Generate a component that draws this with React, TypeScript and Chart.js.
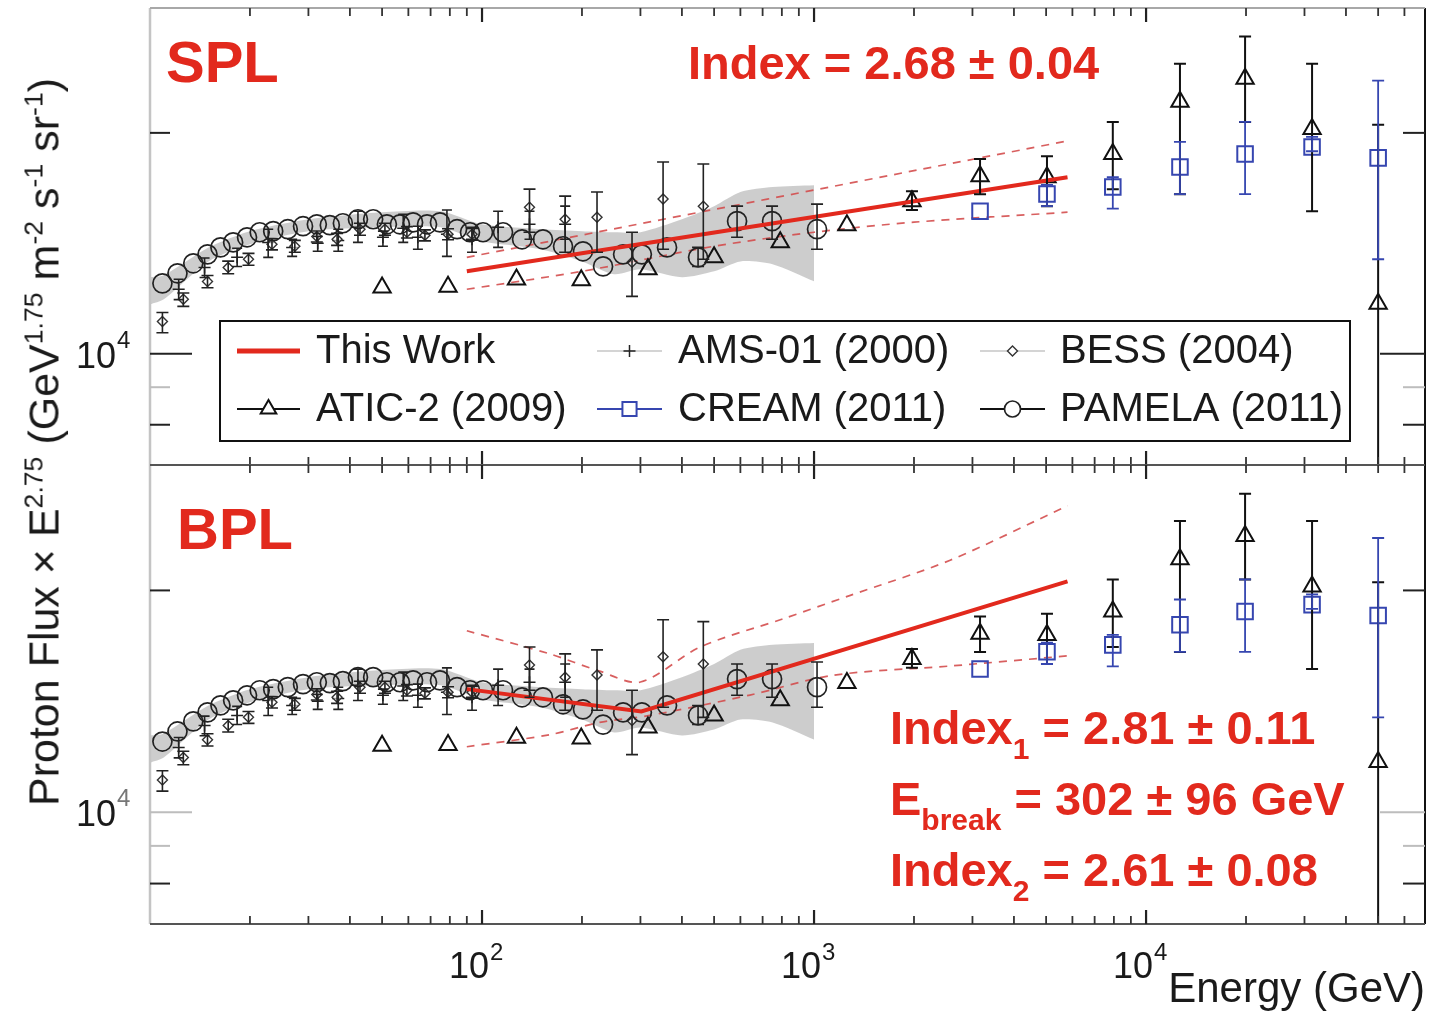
import React, { useEffect, useRef } from 'react';
import { Chart, registerables } from 'chart.js';

Chart.register(...registerables);

// ---------- axis ranges & ticks ----------
const X_MIN = 10;
const X_MAX = 69200;
const Y_MIN = 7050;
const Y_MAX = 29600;

const xLabelTicks = [100, 1000, 10000];
const xLabelExponents = ['2', '3', '4'];
const yTickValues = [8000, 9000, 10000, 20000];
const yLabelTicks = [10000];
const yLabelExponents = ['4'];

// ---------- PAMELA (2011) ----------
const pamelaE = [10.9, 12.1, 13.5, 14.9, 16.3, 17.8, 19.6, 21.4, 23.5, 26.0, 28.9, 31.8, 34.8, 38.1, 42.3, 47.0, 51.7, 56.6, 62.0, 68.3, 74.7, 84.1, 92.0, 100.7, 115.7, 132, 152.6, 175.4, 201.4, 231.5, 266, 303, 360.8, 447.4, 586.4, 747.4, 1021];
const pamelaV = [12470, 12870, 13280, 13660, 13960, 14180, 14410, 14640, 14690, 14780, 14920, 15010, 14970, 15060, 15250, 15250, 15010, 15010, 15100, 15010, 15100, 14780, 14640, 14640, 14640, 14320, 14320, 14010, 13790, 13150, 13660, 13660, 13960, 13530, 15160, 15160, 14780];
const pamelaLo = [null, null, null, null, null, null, null, null, null, null, null, null, null, null, null, null, null, null, null, null, null, null, null, null, null, null, null, null, null, null, null, null, null, 13150, 14410, 14320, 13880];
const pamelaHi = [null, null, null, null, null, null, null, null, null, null, null, null, null, null, null, null, null, null, null, null, null, null, null, null, null, null, null, null, null, null, null, null, null, 13960, 15890, 15890, 15990];

// ---------- PAMELA systematic band ----------
const bandE = [10, 11, 15, 20, 30, 50, 75, 100, 150, 200, 250, 300, 400, 500, 600, 750, 1000];
const bandHi = [12710, 12790, 13960, 14690, 15250, 15590, 15640, 15010, 14780, 14690, 14640, 14640, 15250, 15890, 16610, 16870, 16970];
const bandLo = [11670, 11860, 13360, 14100, 14690, 14870, 14870, 14230, 13880, 13360, 12830, 13030, 12710, 12950, 13360, 13240, 12550];

// ---------- BESS (2004) ----------
const bessE = [10.9, 12.6, 14.9, 17.2, 19.8, 23.3, 27.3, 31.8, 36.6, 42.9, 51.0, 59.4, 67.3, 79, 93.3, 139, 178, 222, 283, 351, 464];
const bessV = [11060, 11860, 12540, 13110, 13450, 14100, 14010, 14450, 14320, 14780, 14780, 14640, 14500, 14550, 14550, 15840, 15250, 15350, 13320, 16250, 15890];
const bessLo = [10680, 11600, 12300, 12850, 13200, 13850, 13750, 14200, 14050, 14500, 14500, 14380, 14250, 14300, 14280, 14640, 13750, 13750, 11970, 13880, 13450];
const bessHi = [11380, 12100, 12780, 13370, 13700, 14350, 14270, 14700, 14590, 15060, 15060, 14900, 14750, 14800, 14820, 16760, 16400, 16610, 14640, 18250, 18140];

// ---------- AMS-01 (2000) ----------
const amsE = [12.2, 14.6, 18.3, 22.7, 26.8, 32.0, 36.9, 42.3, 50.3, 57.9, 64.1, 78.4, 93.3, 111.8, 139, 178];
const amsV = [12240, 13110, 13530, 14180, 13960, 14140, 14270, 14870, 14410, 14830, 14410, 14550, 14320, 14870, 15010, 15010];
const amsLo = [11850, 12700, 13150, 13530, 13570, 13790, 13790, 14180, 14010, 14180, 13880, 13570, 13750, 13960, 14320, 14320];
const amsHi = [12630, 13500, 13920, 14780, 14320, 14450, 14780, 15640, 14690, 15490, 14920, 15700, 14870, 15640, 15640, 15890];

// ---------- ATIC-2 (2009) ----------
const aticE = [50, 79, 127, 199, 316, 500, 791, 1256, 1972, 3162, 5030, 7940, 12650, 19870, 31620, 50000];
const aticV = [12310, 12340, 12620, 12590, 13030, 13530, 14190, 14970, 16140, 17460, 17400, 18720, 22050, 23700, 20250, 11700];
const aticLo = [null, null, null, null, null, null, null, null, 15700, 16500, 15890, 16760, 16500, 20700, 15640, 3000];
const aticHi = [null, null, null, null, null, null, null, null, 16650, 18430, 18590, 20700, 24850, 27060, 24850, 20510];

// ---------- CREAM (2011) ----------
const creamE = [3162, 5030, 7940, 12650, 19870, 31620, 50000];
const creamV = [15640, 16510, 16870, 17970, 18720, 19130, 18490];
const creamLo = [null, 15890, 15770, 16500, 16500, 18880, 13450];
const creamHi = [null, 16990, 17400, 19440, 20700, 19750, 23560];

// ---------- This Work: single power law ----------
const splE = [90, 5800];
const splV = [12950, 17400];
const splUpperE = [90, 5800];
const splUpperV = [13530, 19500];
const splLowerE = [90, 200, 500, 1000, 2000, 5800];
const splLowerV = [12240, 12950, 14010, 14640, 15110, 15590];

// ---------- This Work: broken power law ----------
const bplE = [90, 302, 5800];
const bplV = [14690, 13700, 20570];
const bplUpperE = [90, 160, 226, 300, 454, 809, 1280, 2570, 5800];
const bplUpperV = [17630, 16400, 15540, 15020, 16760, 18310, 19680, 21980, 26060];
const bplLowerE = [90, 160, 226, 320, 641, 1140, 2570, 5800];
const bplLowerV = [12270, 12740, 13240, 13530, 14420, 15340, 15790, 16300];

const LBL_THIS = 'This Work';
const LBL_AMS = 'AMS-01 (2000)';
const LBL_BESS = 'BESS (2004)';
const LBL_ATIC = 'ATIC-2 (2009)';
const LBL_CREAM = 'CREAM (2011)';
const LBL_PAMELA = 'PAMELA (2011)';

const legendLayout = [
  { label: LBL_THIS, col: 0, row: 0 },
  { label: LBL_AMS, col: 1, row: 0 },
  { label: LBL_BESS, col: 2, row: 0 },
  { label: LBL_ATIC, col: 0, row: 1 },
  { label: LBL_CREAM, col: 1, row: 1 },
  { label: LBL_PAMELA, col: 2, row: 1 },
];

const RED = '#e2291d';
const DASH_RED = 'rgba(212,78,78,0.9)';
const BLUE = '#3646b0';
const FONT = '"Liberation Sans", Arial, Helvetica, sans-serif';

function pts(xs: number[], ys: number[]) {
  return xs.map((x, i) => ({ x, y: ys[i] }));
}

function drawMarker(ctx: CanvasRenderingContext2D, style: string, x: number, y: number, r: number) {
  ctx.beginPath();
  if (style === 'circle') {
    ctx.arc(x, y, r, 0, Math.PI * 2);
  } else if (style === 'triangle') {
    ctx.moveTo(x, y - r);
    ctx.lineTo(x + r * 0.866, y + r * 0.5);
    ctx.lineTo(x - r * 0.866, y + r * 0.5);
    ctx.closePath();
  } else if (style === 'rect') {
    const s = r * 0.707;
    ctx.rect(x - s, y - s, 2 * s, 2 * s);
  } else if (style === 'rectRot') {
    ctx.moveTo(x, y - r);
    ctx.lineTo(x + r, y);
    ctx.lineTo(x, y + r);
    ctx.lineTo(x - r, y);
    ctx.closePath();
  } else if (style === 'cross') {
    ctx.moveTo(x, y - r);
    ctx.lineTo(x, y + r);
    ctx.moveTo(x - r, y);
    ctx.lineTo(x + r, y);
  }
  if (style !== 'cross') {
    ctx.fillStyle = '#fff';
    ctx.fill();
  }
  ctx.stroke();
}

const errorBarPlugin = {
  id: 'errorBars',
  afterDatasetsDraw(chart: any) {
    const { ctx, chartArea: a, scales } = chart;
    const xs = scales.x;
    const ys = scales.y;
    ctx.save();
    ctx.beginPath();
    ctx.rect(a.left, a.top, a.right - a.left, a.bottom - a.top);
    ctx.clip();
    chart.data.datasets.forEach((ds: any) => {
      if (!ds.errLo) return;
      ctx.strokeStyle = ds.errColor || ds.pointBorderColor;
      ctx.lineWidth = ds.errWidth || 1.6;
      const cap = ds.capHalf || 5;
      ds.data.forEach((p: any, i: number) => {
        const lo = ds.errLo[i];
        const hi = ds.errHi[i];
        if (lo == null || hi == null) return;
        const px = xs.getPixelForValue(p.x);
        const yl = ys.getPixelForValue(lo);
        const yh = ys.getPixelForValue(hi);
        ctx.beginPath();
        ctx.moveTo(px, yl);
        ctx.lineTo(px, yh);
        ctx.moveTo(px - cap, yh);
        ctx.lineTo(px + cap, yh);
        ctx.moveTo(px - cap, yl);
        ctx.lineTo(px + cap, yl);
        ctx.stroke();
      });
    });
    ctx.restore();
  },
};

function seg(ctx: CanvasRenderingContext2D, x0: number, y0: number, x1: number, y1: number, color: string, w: number) {
  ctx.strokeStyle = color;
  ctx.lineWidth = w;
  ctx.beginPath();
  ctx.moveTo(x0, y0);
  ctx.lineTo(x1, y1);
  ctx.stroke();
}

const axesPlugin = {
  id: 'axesDeco',
  afterDraw(chart: any, _args: any, opts: any) {
    const { ctx, chartArea: a, scales } = chart;
    const xs = scales.x;
    const ys = scales.y;
    const bottomPanel = !!opts.bottomPanel;
    ctx.save();
    // frame
    seg(ctx, a.left, a.top, a.left, a.bottom, '#c4c4c4', 2.5);
    seg(ctx, a.right, a.top, a.right, a.bottom, '#111', 2);
    seg(ctx, a.left, a.top, a.right, a.top, bottomPanel ? '#555' : '#a8a8a8', 2);
    seg(ctx, a.left, a.bottom, a.right, a.bottom, '#555', 2);
    // x ticks
    for (let d = 1; d <= 4; d++) {
      for (let m = 1; m <= 9; m++) {
        const v = m * Math.pow(10, d);
        if (v <= X_MIN || v >= X_MAX) continue;
        const px = xs.getPixelForValue(v);
        const major = m === 1;
        const len = major ? 14 : 8;
        const col = major ? '#222' : '#333';
        const w = major ? 2.2 : 1.8;
        seg(ctx, px, a.top, px, a.top + len, col, w);
        seg(ctx, px, a.bottom, px, a.bottom - len, col, w);
      }
    }
    // y ticks
    yTickValues.forEach((v) => {
      const py = ys.getPixelForValue(v);
      const major = v === 10000;
      const gray = v === 9000 || (major && bottomPanel);
      const col = gray ? '#bdbdbd' : '#222';
      seg(ctx, a.left, py, a.left + (major ? 42 : 20), py, col, 2);
      seg(ctx, a.right, py, a.right - (major ? 45 : 22), py, col, 2);
    });
    // y labels
    ctx.fillStyle = '#1a1a1a';
    ctx.textBaseline = 'alphabetic';
    yLabelTicks.forEach((v, i) => {
      const py = ys.getPixelForValue(v);
      ctx.font = `36px ${FONT}`;
      ctx.textAlign = 'right';
      ctx.fillText('10', 116, py + 14);
      ctx.font = `24px ${FONT}`;
      ctx.textAlign = 'left';
      ctx.fillStyle = bottomPanel ? '#777' : '#1a1a1a';
      ctx.fillText(yLabelExponents[i], 117, py - 6);
      ctx.fillStyle = '#1a1a1a';
    });
    // x labels
    if (bottomPanel) {
      xLabelTicks.forEach((v, i) => {
        const px = xs.getPixelForValue(v);
        ctx.font = `36px ${FONT}`;
        ctx.textAlign = 'right';
        ctx.fillText('10', px + 7, a.bottom + 54);
        ctx.font = `24px ${FONT}`;
        ctx.textAlign = 'left';
        ctx.fillText(xLabelExponents[i], px + 8, a.bottom + 36);
      });
    }
    ctx.restore();
  },
};

const legendPlugin = {
  id: 'boxLegend',
  afterDraw(chart: any, _args: any, opts: any) {
    if (!opts.show) return;
    const ctx = chart.ctx as CanvasRenderingContext2D;
    const sx0 = [237, 597, 980];
    const sx1 = [300, 662, 1045];
    const tx = [316, 678, 1060];
    const ry = [351, 409];
    ctx.save();
    ctx.fillStyle = '#fff';
    ctx.fillRect(220, 321, 1130, 120);
    ctx.strokeStyle = '#111';
    ctx.lineWidth = 2;
    ctx.strokeRect(220, 321, 1130, 120);
    legendLayout.forEach((it) => {
      const ds = chart.data.datasets.find((d: any) => d.label === it.label);
      if (!ds) return;
      const y = ry[it.row];
      const x0 = sx0[it.col];
      const x1 = sx1[it.col];
      seg(ctx, x0, y, x1, y, ds.legendLineColor || ds.borderColor, ds.legendLineWidth || 1.5);
      if (ds.showLine === false) {
        ctx.strokeStyle = ds.pointBorderColor;
        ctx.lineWidth = ds.pointBorderWidth;
        drawMarker(ctx, ds.pointStyle, (x0 + x1) / 2, y, ds.legendRadius || ds.pointRadius);
      }
      ctx.fillStyle = '#1a1a1a';
      ctx.font = `40px ${FONT}`;
      ctx.textAlign = 'left';
      ctx.textBaseline = 'middle';
      ctx.fillText(ds.label, tx[it.col], y + 1);
    });
    ctx.restore();
  },
};

function makeConfig(panel: 'top' | 'bottom'): any {
  const isTop = panel === 'top';
  const fitE = isTop ? splE : bplE;
  const fitV = isTop ? splV : bplV;
  const upE = isTop ? splUpperE : bplUpperE;
  const upV = isTop ? splUpperV : bplUpperV;
  const loE = isTop ? splLowerE : bplLowerE;
  const loV = isTop ? splLowerV : bplLowerV;
  const datasets: any[] = [
    {
      label: LBL_THIS,
      data: pts(fitE, fitV),
      borderColor: RED,
      borderWidth: 4,
      pointRadius: 0,
      tension: 0,
      fill: false,
      order: 0,
      legendLineWidth: 5,
    },
    {
      label: LBL_PAMELA,
      data: pts(pamelaE, pamelaV),
      showLine: false,
      pointStyle: 'circle',
      pointRadius: 9.5,
      pointBorderColor: '#222',
      pointBackgroundColor: 'rgba(0,0,0,0)',
      pointBorderWidth: 1.7,
      borderColor: '#111',
      errLo: pamelaLo,
      errHi: pamelaHi,
      capHalf: 6,
      order: 2,
      legendLineColor: '#111',
      legendLineWidth: 1.8,
      legendRadius: 8,
    },
    {
      label: LBL_BESS,
      data: pts(bessE, bessV),
      showLine: false,
      pointStyle: 'rectRot',
      pointRadius: 5,
      pointBorderColor: '#333',
      pointBackgroundColor: 'rgba(255,255,255,0.6)',
      pointBorderWidth: 1.4,
      borderColor: '#999',
      errLo: bessLo,
      errHi: bessHi,
      errColor: '#222',
      capHalf: 6,
      order: 2,
      legendLineColor: '#aaa',
      legendLineWidth: 1.2,
    },
    {
      label: LBL_AMS,
      data: pts(amsE, amsV),
      showLine: false,
      pointStyle: 'cross',
      pointRadius: 6,
      pointBorderColor: '#222',
      pointBorderWidth: 1.5,
      borderColor: '#999',
      errLo: amsLo,
      errHi: amsHi,
      errColor: '#222',
      capHalf: 5,
      order: 2,
      legendLineColor: '#aaa',
      legendLineWidth: 1.2,
    },
    {
      label: LBL_ATIC,
      data: pts(aticE, aticV),
      showLine: false,
      pointStyle: 'triangle',
      pointRadius: 10,
      pointBorderColor: '#111',
      pointBackgroundColor: 'rgba(255,255,255,0)',
      pointBorderWidth: 2,
      borderColor: '#111',
      errLo: aticLo,
      errHi: aticHi,
      errColor: '#111',
      errWidth: 2,
      capHalf: 6,
      order: 2,
      legendLineColor: '#111',
      legendLineWidth: 1.8,
      legendRadius: 9,
    },
    {
      label: LBL_CREAM,
      data: pts(creamE, creamV),
      showLine: false,
      pointStyle: 'rect',
      pointRadius: 11,
      pointBorderColor: BLUE,
      pointBackgroundColor: 'rgba(255,255,255,0)',
      pointBorderWidth: 2,
      borderColor: BLUE,
      errLo: creamLo,
      errHi: creamHi,
      errColor: BLUE,
      errWidth: 1.8,
      capHalf: 6,
      order: 1,
      legendLineColor: BLUE,
      legendLineWidth: 1.8,
      legendRadius: 10,
    },
    {
      label: 'fit upper bound',
      data: pts(upE, upV),
      borderColor: DASH_RED,
      borderWidth: 1.7,
      borderDash: [8, 7],
      pointRadius: 0,
      tension: 0.3,
      fill: false,
      order: 6,
    },
    {
      label: 'fit lower bound',
      data: pts(loE, loV),
      borderColor: DASH_RED,
      borderWidth: 1.7,
      borderDash: [8, 7],
      pointRadius: 0,
      tension: 0.3,
      fill: false,
      order: 6,
    },
    {
      label: 'PAMELA band low',
      data: pts(bandE, bandLo),
      borderWidth: 0,
      borderColor: 'rgba(0,0,0,0)',
      pointRadius: 0,
      tension: 0.25,
      fill: false,
      order: 10,
    },
    {
      label: 'PAMELA band high',
      data: pts(bandE, bandHi),
      borderWidth: 0,
      borderColor: 'rgba(0,0,0,0)',
      backgroundColor: 'rgba(196,196,196,0.85)',
      pointRadius: 0,
      tension: 0.25,
      fill: '-1',
      order: 10,
    },
  ];
  return {
    type: 'line',
    data: { datasets },
    options: {
      responsive: false,
      maintainAspectRatio: false,
      animation: false,
      events: [],
      layout: {
        autoPadding: false,
        padding: isTop
          ? { left: 150, right: 6, top: 8, bottom: 1 }
          : { left: 150, right: 6, top: 7, bottom: 87 },
      },
      scales: {
        x: { type: 'logarithmic', min: X_MIN, max: X_MAX, display: false },
        y: { type: 'logarithmic', min: Y_MIN, max: Y_MAX, display: false },
      },
      plugins: {
        legend: { display: false },
        tooltip: { enabled: false },
        axesDeco: { bottomPanel: !isTop },
        boxLegend: { show: isTop },
      },
    },
    plugins: [errorBarPlugin, axesPlugin, legendPlugin],
  };
}

const supStyle: React.CSSProperties = { fontSize: '0.62em', position: 'relative', top: '-0.6em' };

export default function App() {
  const topRef = useRef<HTMLCanvasElement>(null);
  const botRef = useRef<HTMLCanvasElement>(null);

  useEffect(() => {
    const c1 = new Chart(topRef.current as HTMLCanvasElement, makeConfig('top'));
    const c2 = new Chart(botRef.current as HTMLCanvasElement, makeConfig('bottom'));
    return () => {
      c1.destroy();
      c2.destroy();
    };
  }, []);

  const redBold = (fs: number): React.CSSProperties => ({
    position: 'absolute',
    fontSize: fs,
    fontWeight: 'bold',
    color: RED,
    lineHeight: 1,
    whiteSpace: 'nowrap',
  });
  const subStyle: React.CSSProperties = { fontSize: 30, position: 'relative', top: 15 };

  return (
    <div
      style={{
        position: 'absolute',
        left: 0,
        top: 0,
        width: 1431,
        height: 1011,
        overflow: 'hidden',
        background: '#fff',
        fontFamily: FONT,
      }}
    >
      <canvas ref={topRef} width={1431} height={466} style={{ position: 'absolute', left: 0, top: 0 }} />
      <canvas ref={botRef} width={1431} height={553} style={{ position: 'absolute', left: 0, top: 458 }} />

      <div style={{ ...redBold(58), left: 166, top: 33 }}>SPL</div>
      <div style={{ ...redBold(47), left: 688, top: 39 }}>Index = 2.68 ± 0.04</div>

      <div style={{ ...redBold(58), left: 177, top: 500 }}>BPL</div>
      <div style={{ ...redBold(47), left: 890, top: 704 }}>
        Index<span style={subStyle}>1</span> = 2.81 ± 0.11
      </div>
      <div style={{ ...redBold(47), left: 890, top: 775 }}>
        E<span style={subStyle}>break</span> = 302 ± 96 GeV
      </div>
      <div style={{ ...redBold(47), left: 890, top: 846 }}>
        Index<span style={subStyle}>2</span> = 2.61 ± 0.08
      </div>

      <div
        style={{
          position: 'absolute',
          left: 44,
          top: 442,
          transform: 'translate(-50%, -50%) rotate(-90deg)',
          fontSize: 43,
          lineHeight: 1,
          whiteSpace: 'nowrap',
          color: '#1a1a1a',
        }}
      >
        Proton Flux × E<span style={supStyle}>2.75</span> (GeV<span style={supStyle}>1.75</span> m
        <span style={supStyle}>-2</span> s<span style={supStyle}>-1</span> sr<span style={supStyle}>-1</span>)
      </div>

      <div
        style={{
          position: 'absolute',
          right: 6,
          top: 967,
          fontSize: 42,
          lineHeight: 1,
          whiteSpace: 'nowrap',
          color: '#1a1a1a',
        }}
      >
        Energy (GeV)
      </div>
    </div>
  );
}
